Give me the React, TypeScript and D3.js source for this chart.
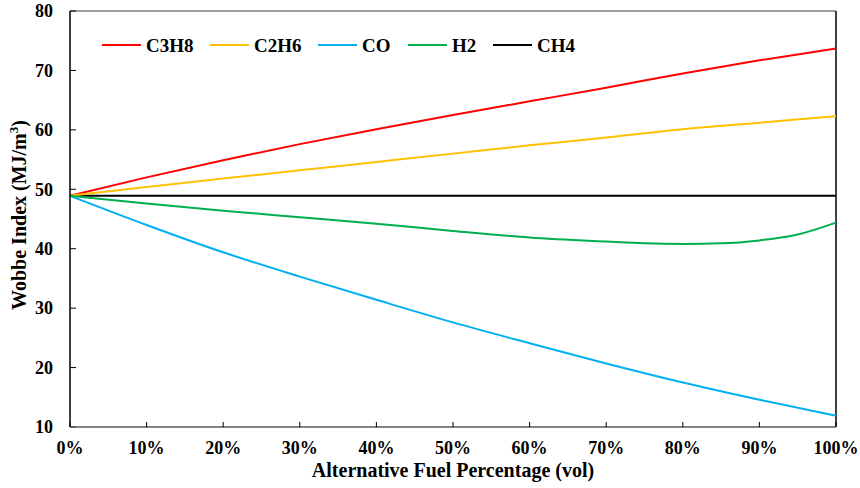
import React from "react";
import * as d3 from "d3";

const xPct = [0, 10, 20, 30, 40, 50, 60, 70, 80, 90, 100];
const c3h8 = [48.9, 52.0, 54.9, 57.6, 60.1, 62.5, 64.8, 67.1, 69.5, 71.7, 73.7];
const c2h6 = [48.9, 50.4, 51.8, 53.2, 54.6, 56.0, 57.4, 58.7, 60.1, 61.2, 62.3];
const co = [48.9, 44.0, 39.4, 35.3, 31.4, 27.6, 24.1, 20.7, 17.5, 14.6, 11.9];
const h2X = [0, 10, 20, 30, 40, 50, 60, 70, 75, 80, 85, 90, 95, 100];
const h2 = [48.9, 47.6, 46.4, 45.3, 44.2, 43.0, 41.9, 41.2, 40.9, 40.8, 40.9, 41.4, 42.4, 44.4];
const ch4 = [48.9, 48.9, 48.9, 48.9, 48.9, 48.9, 48.9, 48.9, 48.9, 48.9, 48.9];
const yTicks = [10, 20, 30, 40, 50, 60, 70, 80];
const xTicks = [0, 10, 20, 30, 40, 50, 60, 70, 80, 90, 100];

const seriesNames = ["C3H8", "C2H6", "CO", "H2", "CH4"];
const seriesColors = ["#FF0000", "#FFC000", "#00B0F0", "#00B050", "#000000"];
const legendX = [102, 210, 318, 408, 493];

const W = 860, H = 488;
const L = 70, R = 836, T = 11, B = 427;
const font = '"Liberation Serif", "Times New Roman", serif';

export default function App() {
  const x = d3.scaleLinear().domain([0, 100]).range([L, R]);
  const y = d3.scaleLinear().domain([10, 80]).range([B, T]);
  const line = d3
    .line<[number, number]>()
    .x((d) => x(d[0]))
    .y((d) => y(d[1]))
    .curve(d3.curveMonotoneX);
  const zip = (xs: number[], ys: number[]) => xs.map((v, i) => [v, ys[i]] as [number, number]);
  const series = [
    zip(xPct, c3h8),
    zip(xPct, c2h6),
    zip(xPct, co),
    zip(h2X, h2),
    zip(xPct, ch4),
  ];
  const drawOrder = [4, 0, 1, 2, 3];
  return (
    <div style={{ fontFamily: font }}>
      <style>{`svg text { font-family: ${font}; font-weight: bold; }`}</style>
      <svg width={W} height={H} style={{ position: "absolute", left: 0, top: 0, background: "#fff" }}>
        <rect x={0} y={0} width={W} height={H} fill="#fff" />
        <line x1={L} x2={R} y1={T} y2={T} stroke="#7f7f7f" strokeWidth={1.5} />
        <line x1={R} x2={R} y1={T} y2={B} stroke="#000" strokeWidth={1.5} />
        {drawOrder.map((i) => (
          <path key={i} d={line(series[i]) || ""} fill="none" stroke={seriesColors[i]} strokeWidth={2} />
        ))}
        <line x1={L} x2={L} y1={T} y2={B} stroke="#000" strokeWidth={1.5} />
        {yTicks.map((t) => (
          <g key={t}>
            <line x1={L} x2={L + 6} y1={y(t)} y2={y(t)} stroke="#000" strokeWidth={1} />
            <text x={53} y={y(t)} dy="0.35em" textAnchor="end" fontSize={18}>
              {t}
            </text>
          </g>
        ))}
        <line x1={L} x2={R} y1={B} y2={B} stroke="#595959" strokeWidth={1.5} />
        {xTicks.map((t) => (
          <g key={t}>
            <line x1={x(t)} x2={x(t)} y1={B} y2={B - 5} stroke="#000" strokeWidth={1} />
            <text x={x(t)} y={454} textAnchor="middle" fontSize={18}>
              {t + "%"}
            </text>
          </g>
        ))}
        {seriesNames.map((n, i) => (
          <g key={n}>
            <line x1={legendX[i]} x2={legendX[i] + 39} y1={45} y2={45} stroke={seriesColors[i]} strokeWidth={2} />
            <text x={legendX[i] + 44} y={45} dy="0.35em" fontSize={19}>
              {n}
            </text>
          </g>
        ))}
        <text x={(L + R) / 2} y={477} textAnchor="middle" fontSize={20}>
          Alternative Fuel Percentage (vol)
        </text>
        <text transform={`translate(26, ${(T + B) / 2 - 4}) rotate(-90)`} textAnchor="middle" fontSize={20}>
          Wobbe Index (MJ/m
          <tspan fontSize={13} dy={-8}>3</tspan>
          <tspan dy={8}>)</tspan>
        </text>
      </svg>
    </div>
  );
}
